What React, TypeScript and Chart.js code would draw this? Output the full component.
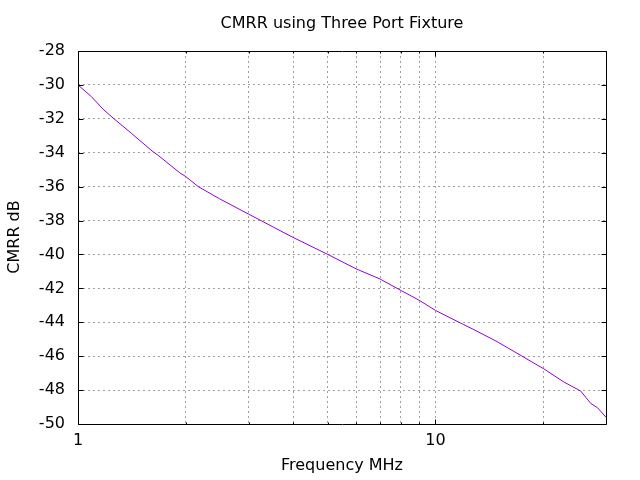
import React, { useEffect, useRef } from "react";
import { Chart, registerables } from "chart.js";

Chart.register(...registerables);

const TITLE = "CMRR using Three Port Fixture";
const X_LABEL = "Frequency MHz";
const Y_LABEL = "CMRR dB";

const freqMHz = [
  1.0, 1.09, 1.175, 1.261, 1.41, 1.612, 1.675, 1.93, 2.0, 2.17, 2.49, 3.0,
  4.0, 5.0, 6.0, 7.0, 8.0, 9.0, 10.0, 12.0, 12.8, 14.9, 17.6, 20.1, 21.45,
  22.9, 25.5, 27.2, 28.4, 30.0,
];
const cmrrDb = [
  -30.0, -30.69, -31.43, -32.0, -32.85, -33.9, -34.15, -35.2, -35.4, -36.0,
  -36.72, -37.62, -39.0, -40.0, -40.85, -41.45, -42.12, -42.7, -43.3, -44.14,
  -44.43, -45.15, -46.04, -46.75, -47.14, -47.53, -48.06, -48.79, -49.04,
  -49.6,
];

const X_MIN = 1;
const X_MAX = 30;
const Y_MIN = -50;
const Y_MAX = -28;
const Y_STEP = 2;
const xLabeledTicks = [1, 10];
const xTickValues = [1, 2, 3, 4, 5, 6, 7, 8, 9, 10, 20, 30];

const FONT = "'DejaVu Sans', sans-serif";

const framePlugin = {
  id: "gnuplotFrame",
  afterDraw(chart: any) {
    const { ctx, chartArea } = chart;
    const { left, right, top, bottom } = chartArea;
    const xs = chart.scales.x;
    const ys = chart.scales.y;
    ctx.save();
    ctx.strokeStyle = "#000";
    ctx.lineWidth = 1;
    ctx.setLineDash([]);
    const L = Math.round(left) + 0.5;
    const R = Math.round(right) + 0.5;
    const T = Math.round(top) + 0.5;
    const B = Math.round(bottom) + 0.5;
    ctx.beginPath();
    ctx.rect(L, T, R - L, B - T);
    ctx.stroke();
    ctx.beginPath();
    for (let v = Y_MIN; v <= Y_MAX; v += Y_STEP) {
      const y = Math.round(ys.getPixelForValue(v)) + 0.5;
      ctx.moveTo(L, y);
      ctx.lineTo(L + 5, y);
      ctx.moveTo(R, y);
      ctx.lineTo(R - 5, y);
    }
    for (const v of xTickValues) {
      const x = Math.round(xs.getPixelForValue(v)) + 0.5;
      const len = xLabeledTicks.includes(v) ? 5 : 2;
      ctx.moveTo(x, B);
      ctx.lineTo(x, B - len);
      ctx.moveTo(x, T);
      ctx.lineTo(x, T + len);
    }
    ctx.stroke();
    ctx.fillStyle = "#000";
    ctx.font = `16px ${FONT}`;
    ctx.textAlign = "center";
    ctx.textBaseline = "middle";
    const cx = (left + right) / 2;
    ctx.fillText(TITLE, cx, 24);
    ctx.fillText(X_LABEL, cx, 466);
    ctx.translate(15, 237);
    ctx.rotate(-Math.PI / 2);
    ctx.fillText(Y_LABEL, 0, 0);
    ctx.restore();
  },
};

export default function App() {
  const ref = useRef<HTMLCanvasElement | null>(null);
  useEffect(() => {
    document.body.style.margin = "0";
    const canvas = ref.current;
    if (!canvas) return;
    const chart = new Chart(canvas, {
      type: "line",
      data: {
        datasets: [
          {
            data: freqMHz.map((f, i) => ({ x: f, y: cmrrDb[i] })),
            borderColor: "#9400d3",
            borderWidth: 1,
            pointRadius: 0,
            fill: false,
            tension: 0,
          },
        ],
      },
      options: {
        animation: false,
        responsive: false,
        maintainAspectRatio: false,
        layout: { padding: { left: 0, top: 51, right: 34, bottom: 0 } },
        plugins: {
          legend: { display: false },
          title: { display: false },
          tooltip: { enabled: false },
        },
        scales: {
          x: {
            type: "logarithmic",
            min: X_MIN,
            max: X_MAX,
            afterFit(scale: any) {
              scale.height = 56;
            },
            afterBuildTicks(scale: any) {
              scale.ticks = xTickValues.map((v) => ({ value: v }));
            },
            border: { display: false, dash: [2, 3] },
            grid: {
              color: "#a0a0a0",
              lineWidth: 1,
              drawTicks: false,
            },
            ticks: {
              autoSkip: false,
              maxRotation: 0,
              padding: 7,
              color: "#000",
              font: { family: FONT, size: 16 },
              callback: (v: any) =>
                xLabeledTicks.includes(Number(v)) ? String(v) : "",
            },
          },
          y: {
            type: "linear",
            min: Y_MIN,
            max: Y_MAX,
            afterFit(scale: any) {
              scale.width = 78;
            },
            border: { display: false, dash: [2, 3] },
            grid: {
              color: "#a0a0a0",
              lineWidth: 1,
              drawTicks: false,
            },
            ticks: {
              stepSize: Y_STEP,
              padding: 13,
              color: "#000",
              font: { family: FONT, size: 16 },
            },
          },
        },
      },
      plugins: [framePlugin],
    });
    return () => chart.destroy();
  }, []);
  return <canvas ref={ref} width={640} height={480} style={{ display: "block" }} />;
}
